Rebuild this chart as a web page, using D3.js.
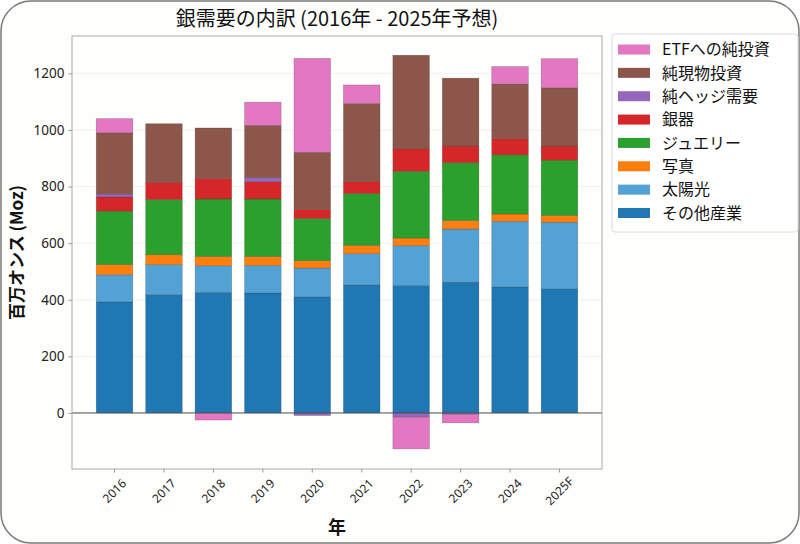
<!DOCTYPE html>
<html>
<head>
<meta charset="utf-8">
<script src="https://cdn.jsdelivr.net/npm/d3@7"></script>
<style>
  html, body { margin: 0; padding: 0; background: #fff; }
  svg { display: block; font-family: "Noto Sans CJK JP", "Noto Sans", sans-serif; }
</style>
</head>
<body>
<svg id="chart"></svg>
<script>
const years = ['2016', '2017', '2018', '2019', '2020', '2021', '2022', '2023', '2024', '2025F'];

// 百万オンス
const etf        = [50, 0, -25, 82, 332, 66, -112, -30, 62, 103];
const physical   = [216, 207, 179, 185, 202, 276, 331, 240, 193, 206];
const hedging    = [11, 0, 0, 14, -9, 0, -15, -5, 0, 0];
const silverware = [50, 61, 72, 61, 32, 42, 79, 59, 57, 50];
const jewelry    = [189, 195, 203, 203, 149, 183, 236, 204, 209, 195];
const photo      = [36, 35, 33, 32, 26, 29, 27, 30, 26, 24];
const solar      = [96, 106, 94, 97, 102, 110, 141, 188, 232, 235];
const other      = [392, 418, 426, 424, 410, 453, 450, 462, 445, 439];

const yTicks = [0, 200, 400, 600, 800, 1000, 1200];

// 下から積む順
const series = [
  {key: 'other', label: 'その他産業', color: '#1f77b4', values: other},
  {key: 'solar', label: '太陽光', color: '#52a2d6', values: solar},
  {key: 'photo', label: '写真', color: '#ff7f0e', values: photo},
  {key: 'jewelry', label: 'ジュエリー', color: '#2ca02c', values: jewelry},
  {key: 'silverware', label: '銀器', color: '#d62728', values: silverware},
  {key: 'hedging', label: '純ヘッジ需要', color: '#9467bd', values: hedging},
  {key: 'physical', label: '純現物投資', color: '#8c564b', values: physical},
  {key: 'etf', label: 'ETFへの純投資', color: '#e377c2', values: etf}
];

const svgWidth = 800, svgHeight = 544;
const plot = {left: 72, right: 602, top: 36, bottom: 469};

const svg = d3.select('#chart')
  .attr('width', svgWidth)
  .attr('height', svgHeight);

// 外枠
svg.append('rect')
  .attr('x', 1).attr('y', 1)
  .attr('width', svgWidth - 2).attr('height', svgHeight - 2)
  .attr('rx', 30).attr('ry', 30)
  .attr('fill', '#fefefc')
  .attr('stroke', '#7a7a7a')
  .attr('stroke-width', 1.5);

const table = years.map((y, i) => {
  const row = {year: y};
  series.forEach(s => row[s.key] = s.values[i]);
  return row;
});

const stacked = d3.stack()
  .keys(series.map(s => s.key))
  .offset(d3.stackOffsetDiverging)(table);

const x = d3.scaleBand()
  .domain(years)
  .range([plot.left, plot.right])
  .paddingInner(0.26)
  .paddingOuter(0.49);

const y = d3.scaleLinear()
  .domain([-198, 1332])
  .range([plot.bottom, plot.top]);

// グリッド
svg.append('g')
  .selectAll('line')
  .data(yTicks)
  .join('line')
  .attr('x1', plot.left).attr('x2', plot.right)
  .attr('y1', d => y(d)).attr('y2', d => y(d))
  .attr('stroke', '#ececec')
  .attr('stroke-width', 0.8);

// 棒
svg.append('g')
  .selectAll('g')
  .data(stacked)
  .join('g')
  .attr('fill', (d, i) => series[i].color)
  .selectAll('rect')
  .data(d => d)
  .join('rect')
  .attr('x', d => x(d.data.year))
  .attr('width', x.bandwidth())
  .attr('y', d => y(Math.max(d[0], d[1])))
  .attr('height', d => Math.abs(y(d[0]) - y(d[1])))
  .attr('stroke', 'rgba(40,40,40,0.35)')
  .attr('stroke-width', 0.6);

// ゼロ線
svg.append('line')
  .attr('x1', plot.left).attr('x2', plot.right)
  .attr('y1', y(0)).attr('y2', y(0))
  .attr('stroke', '#555')
  .attr('stroke-width', 1);

// 枠線
svg.append('rect')
  .attr('x', plot.left).attr('y', plot.top)
  .attr('width', plot.right - plot.left)
  .attr('height', plot.bottom - plot.top)
  .attr('fill', 'none')
  .attr('stroke', '#a8a8a8')
  .attr('stroke-width', 1);

// y軸
const yAxis = svg.append('g')
  .attr('transform', `translate(${plot.left},0)`)
  .call(d3.axisLeft(y).tickValues(yTicks).tickFormat(d3.format('d')).tickSize(3.5).tickPadding(4));
yAxis.select('.domain').remove();
yAxis.selectAll('line').attr('stroke', '#999');
yAxis.selectAll('text')
  .attr('font-size', 13.5)
  .attr('fill', '#222')
  .style('font-family', '"Noto Sans", sans-serif');

// x軸
const xAxis = svg.append('g')
  .attr('transform', `translate(0,${plot.bottom})`)
  .call(d3.axisBottom(x).tickSize(3.5).tickFormat(''));
xAxis.select('.domain').remove();
xAxis.selectAll('line').attr('stroke', '#999');

svg.append('g')
  .selectAll('text')
  .data(years)
  .join('text')
  .attr('transform', d => `translate(${x(d) + x.bandwidth() / 2},${plot.bottom + 22}) rotate(-45)`)
  .attr('text-anchor', 'middle')
  .attr('dy', '0.35em')
  .attr('font-size', 12)
  .attr('fill', '#222')
  .style('font-family', '"Noto Sans", sans-serif')
  .text(d => d);

// タイトル
svg.append('text')
  .attr('x', (plot.left + plot.right) / 2)
  .attr('y', 26)
  .attr('text-anchor', 'middle')
  .attr('font-size', 20)
  .attr('fill', '#111')
  .text('銀需要の内訳 (2016年 - 2025年予想)');

// 軸ラベル
svg.append('text')
  .attr('transform', `translate(23,${(plot.top + plot.bottom) / 2}) rotate(-90)`)
  .attr('text-anchor', 'middle')
  .attr('font-size', 17)
  .attr('font-weight', 'bold')
  .attr('fill', '#111')
  .text('百万オンス (Moz)');

svg.append('text')
  .attr('x', (plot.left + plot.right) / 2)
  .attr('y', 534)
  .attr('text-anchor', 'middle')
  .attr('font-size', 18)
  .attr('font-weight', 'bold')
  .attr('fill', '#111')
  .text('年');

// 凡例
const legend = svg.append('g').attr('class', 'legend');
legend.append('rect')
  .attr('x', 612).attr('y', 34)
  .attr('width', 186).attr('height', 198)
  .attr('rx', 3)
  .attr('fill', '#fff')
  .attr('stroke', '#dcdcdc');

const legendItems = series.slice().reverse();
const rowY = d3.scaleLinear().domain([0, 7]).range([49.5, 213]);

legend.selectAll('rect.patch')
  .data(legendItems)
  .join('rect')
  .attr('class', 'patch')
  .attr('x', 618).attr('y', (d, i) => rowY(i) - 5)
  .attr('width', 32).attr('height', 10)
  .attr('fill', d => d.color);

legend.selectAll('text')
  .data(legendItems)
  .join('text')
  .attr('x', 662).attr('y', (d, i) => rowY(i))
  .attr('dy', '0.36em')
  .attr('font-size', 16)
  .attr('fill', '#111')
  .text(d => d.label);
</script>
</body>
</html>
